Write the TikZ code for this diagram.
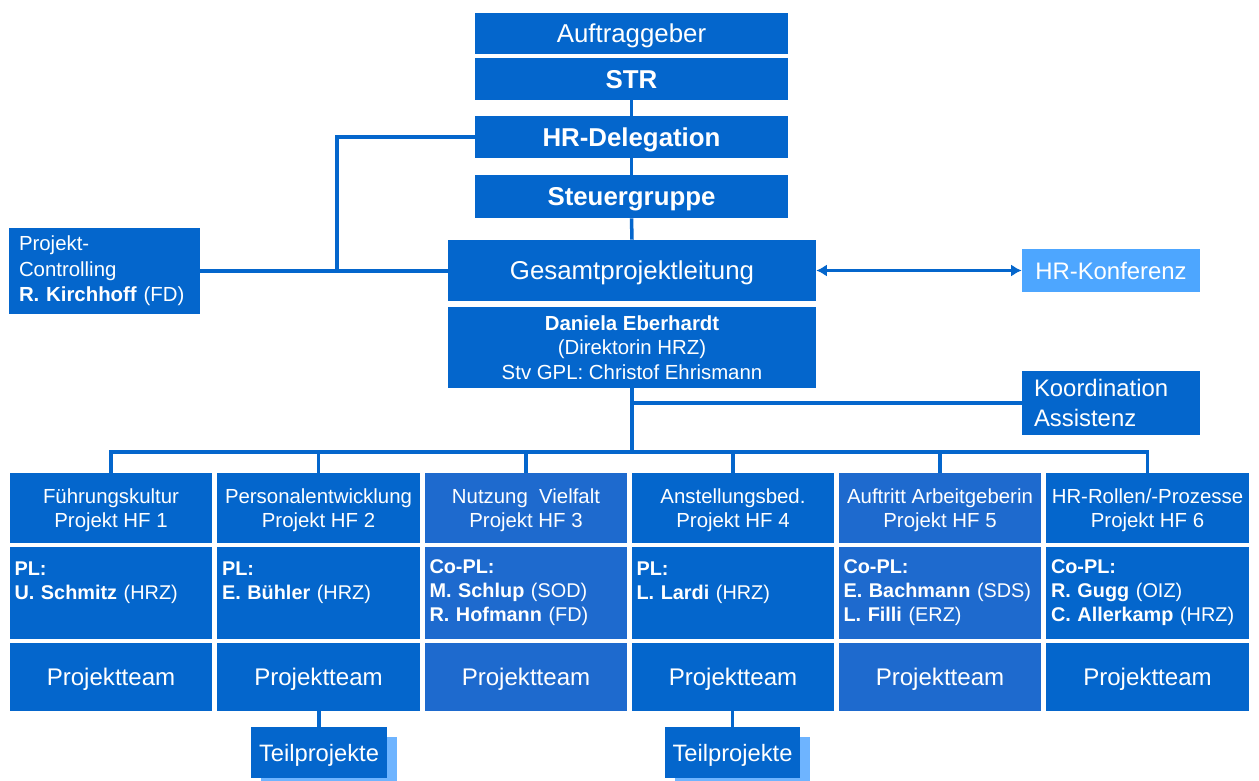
\documentclass[tikz,border=0pt]{standalone}
\usepackage{fontspec}
\setmainfont{Liberation Sans}
\usetikzlibrary{arrows.meta,shadows}
\definecolor{hrblue}{RGB}{4,102,204}
\definecolor{hrbluelt}{RGB}{30,106,206}
\definecolor{konfblue}{RGB}{77,166,255}
\definecolor{shadeblue}{RGB}{110,180,255}
\tikzset{
  orgbox/.style={fill=hrblue, text=white, inner sep=0pt, align=center},
  flatbox/.style={orgbox, text depth=0pt},
  topbox/.style={flatbox, minimum width=6.26cm, font=\fontsize{14.7}{17.6}\selectfont},
  topbold/.style={topbox, font=\fontsize{14.7}{17.6}\selectfont\bfseries},
  gplbox/.style={flatbox, minimum width=7.36cm},
  sidebox/.style={orgbox, minimum width=3.56cm, font=\fontsize{13.6}{17}\selectfont},
  headbox/.style={flatbox, minimum width=4.06cm, minimum height=1.40cm, font=\fontsize{11.6}{13.6}\selectfont},
  plbox/.style={orgbox, align=left, text width=3.86cm, inner xsep=0.1cm, minimum height=1.84cm, font=\fontsize{11.3}{13.6}\selectfont},
  teambox/.style={flatbox, minimum width=4.06cm, minimum height=1.36cm, font=\fontsize{13.7}{16.4}\selectfont},
  teilbox/.style={flatbox, minimum width=2.72cm, minimum height=1.02cm, font=\fontsize{13.5}{16}\selectfont,
    drop shadow={shadow xshift=0.2cm, shadow yshift=-0.2cm, fill=shadeblue, opacity=1}},
  link/.style={draw=hrblue, line width=2pt},
  biarrow/.style={link, {Latex[length=6pt,width=7pt]}-{Latex[length=6pt,width=7pt]}},
}

\begin{document}
\begin{tikzpicture}[x=0.02cm, y=-0.02cm]
\useasboundingbox (0,0) rectangle (1259,781);
% top of the chart
\node[topbox, minimum height=0.82cm] (auftrag) at (631.5,33.5) {Auftraggeber};
\node[topbold, minimum height=0.84cm] (str) at (631.5,79) {STR};
\node[topbold, minimum height=0.84cm] (hrdel) at (631.5,137) {HR-Delegation};
\node[topbold, minimum height=0.86cm] (steuer) at (631.5,196.5) {Steuergruppe};
\node[gplbox, minimum height=1.22cm, font=\fontsize{14.7}{17.6}\selectfont] (gpl) at (632,270.5) {Gesamtprojektleitung};
\node[gplbox, minimum height=1.62cm, font=\fontsize{11.6}{13.9}\selectfont] (leitung) at (632,347.5)
  {\textbf{Daniela Eberhardt}\\(Direktorin HRZ)\\Stv GPL: Christof Ehrismann};
% side boxes
\node[orgbox, align=left, text width=3.42cm, inner xsep=0.2cm, minimum height=1.72cm,
  font=\fontsize{11.6}{14.5}\selectfont] (ctrl) at (104.5,271)
  {Projekt-\\Controlling\\\textbf{R. Kirchhoff} (FD)};
\node[sidebox, text depth=0pt, fill=konfblue, minimum height=0.86cm] (konf) at (1111,270.5) {HR-Konferenz};
\node[sidebox, align=left, text width=3.08cm, inner xsep=0.24cm, minimum height=1.28cm] (koord) at (1111,403)
  {Koordination\\Assistenz};
% project columns
\node[headbox] (h1) at (111,508) {Führungskultur\\Projekt HF 1};
\node[headbox] (h2) at (318.5,508) {Personalentwicklung\\Projekt HF 2};
\node[headbox, fill=hrbluelt] (h3) at (526,508) {Nutzung\ \ Vielfalt\\Projekt HF 3};
\node[headbox] (h4) at (733,508) {Anstellungsbed.\\Projekt HF 4};
\node[headbox, fill=hrbluelt] (h5) at (940,508) {Auftritt Arbeitgeberin\\Projekt HF 5};
\node[headbox] (h6) at (1147.5,508) {HR-Rollen/-Prozesse\\Projekt HF 6};
\node[plbox] (pl1) at (111,593) {\textbf{PL:}\\\textbf{U. Schmitz} (HRZ)\\\mbox{}};
\node[plbox] (pl2) at (318.5,593) {\textbf{PL:}\\\textbf{E. Bühler} (HRZ)\\\mbox{}};
\node[plbox, fill=hrbluelt] (pl3) at (526,593) {\textbf{Co-PL:}\\\textbf{M. Schlup} (SOD)\\\textbf{R. Hofmann} (FD)};
\node[plbox] (pl4) at (733,593) {\textbf{PL:}\\\textbf{L. Lardi} (HRZ)\\\mbox{}};
\node[plbox, fill=hrbluelt] (pl5) at (940,593) {\textbf{Co-PL:}\\\textbf{E. Bachmann} (SDS)\\\textbf{L. Filli} (ERZ)};
\node[plbox] (pl6) at (1147.5,593) {\textbf{Co-PL:}\\\textbf{R. Gugg} (OIZ)\\\textbf{C. Allerkamp} (HRZ)};
\node[teambox] (team1) at (111,677) {Projektteam};
\node[teambox] (team2) at (318.5,677) {Projektteam};
\node[teambox, fill=hrbluelt] (team3) at (526,677) {Projektteam};
\node[teambox] (team4) at (733,677) {Projektteam};
\node[teambox, fill=hrbluelt] (team5) at (940,677) {Projektteam};
\node[teambox] (team6) at (1147.5,677) {Projektteam};
\node[teilbox] (teil1) at (319,752.5) {Teilprojekte};
\node[teilbox] (teil2) at (732.5,752.5) {Teilprojekte};
% connectors
\coordinate (cjoin) at (337,271);
\coordinate (bus) at (632,452);
\draw[link] (str.south) -- (hrdel.north);
\draw[link] (hrdel.south) -- (steuer.north);
\draw[link] (steuer.south) -- (gpl.north);
\draw[link] (hrdel.west) -| (cjoin);
\draw[link] (ctrl.east) -- (ctrl.east -| gpl.west);
\draw[biarrow] (gpl.east) -- (konf.west);
\draw[link] (koord.west) -- (koord.west -| leitung.south);
\draw[link] (leitung.south) -- (bus);
\draw[link] (h1.north) |- (bus);
\draw[link] (h2.north) |- (bus);
\draw[link] (h3.north) |- (bus);
\draw[link] (h4.north) |- (bus);
\draw[link] (h5.north) |- (bus);
\draw[link] (h6.north) |- (bus);
\draw[link] (teil1.north) -- (teil1.north |- team2.south);
\draw[link] (teil2.north) -- (teil2.north |- team4.south);
\end{tikzpicture}
\end{document}
